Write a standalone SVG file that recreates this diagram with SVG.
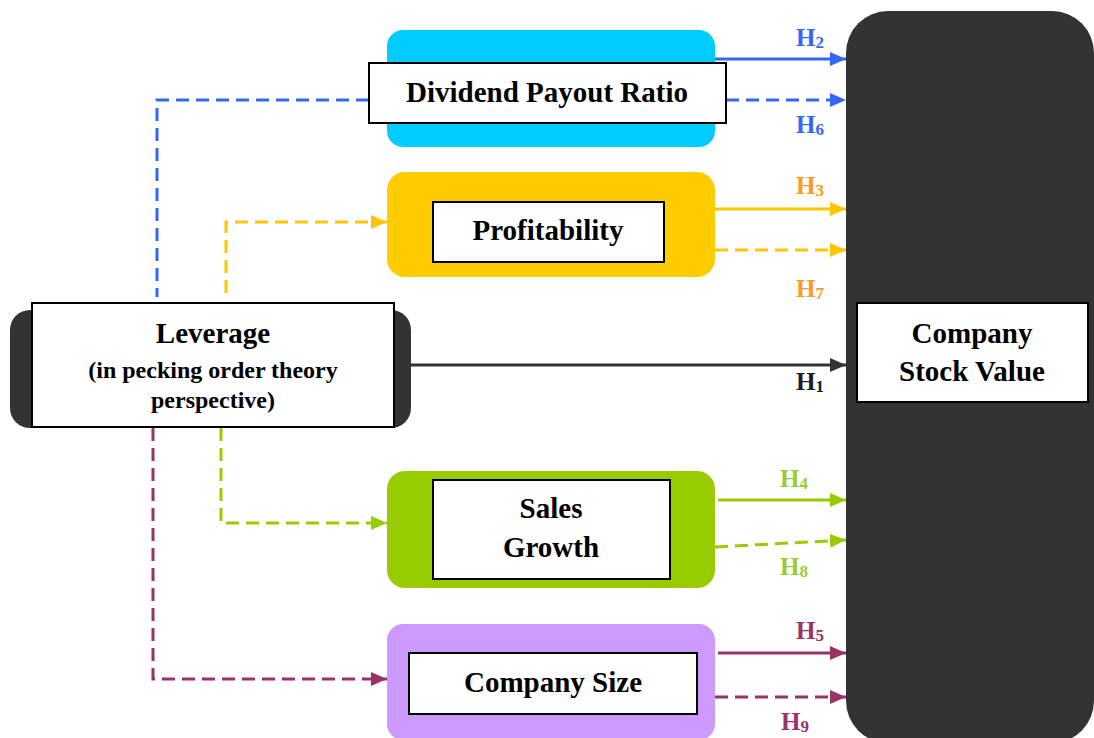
<svg xmlns="http://www.w3.org/2000/svg" width="1094" height="738" viewBox="0 0 1094 738">
  <style>
    .title { font-family: "Liberation Serif", "Times New Roman", serif; font-weight: bold; font-size: 29px; fill: #000; text-anchor: middle; }
    .sub { font-family: "Liberation Serif", "Times New Roman", serif; font-weight: bold; font-size: 24px; fill: #000; text-anchor: middle; }
    .label { font-family: "Liberation Serif", "Times New Roman", serif; font-weight: bold; font-size: 25px; }
    .label tspan.idx { font-size: 17px; }
    .box { fill: #fff; stroke: #000; stroke-width: 2; }
    .wire { fill: none; stroke-width: 3; }
    .dash { stroke-dasharray: 13 7; }
  </style>
  <defs>
    <marker id="ah-blue" markerUnits="userSpaceOnUse" markerWidth="16" markerHeight="14" refX="16" refY="7" orient="auto">
      <path d="M0,0 L16,7 L0,14 z" fill="#3366FF"/>
    </marker>
    <marker id="ah-yellow" markerUnits="userSpaceOnUse" markerWidth="16" markerHeight="14" refX="16" refY="7" orient="auto">
      <path d="M0,0 L16,7 L0,14 z" fill="#FFC600"/>
    </marker>
    <marker id="ah-green" markerUnits="userSpaceOnUse" markerWidth="16" markerHeight="14" refX="16" refY="7" orient="auto">
      <path d="M0,0 L16,7 L0,14 z" fill="#99CC00"/>
    </marker>
    <marker id="ah-purple" markerUnits="userSpaceOnUse" markerWidth="16" markerHeight="14" refX="16" refY="7" orient="auto">
      <path d="M0,0 L16,7 L0,14 z" fill="#993366"/>
    </marker>
    <marker id="ah-dark" markerUnits="userSpaceOnUse" markerWidth="16" markerHeight="14" refX="16" refY="7" orient="auto">
      <path d="M0,0 L16,7 L0,14 z" fill="#333333"/>
    </marker>
  </defs>

  <rect width="1094" height="738" fill="#fff"/>

  <!-- connectors -->
  <g id="connectors">
    <!-- leverage to mediators -->
    <path class="wire dash" stroke="#3366FF" d="M369,100 H157 V297"/>
    <path class="wire dash" stroke="#FFC600" d="M226,293 V222 H387" marker-end="url(#ah-yellow)"/>
    <path class="wire dash" stroke="#99CC00" d="M221,428 V523 H387" marker-end="url(#ah-green)"/>
    <path class="wire dash" stroke="#993366" d="M153,428 V679 H387" marker-end="url(#ah-purple)"/>
    <!-- direct effect -->
    <path class="wire" stroke="#333333" d="M411,365 H846" marker-end="url(#ah-dark)"/>
    <!-- mediators to stock value -->
    <path class="wire" stroke="#3366FF" d="M715,59 H846" marker-end="url(#ah-blue)"/>
    <path class="wire dash" stroke="#3366FF" d="M726,100 H846" marker-end="url(#ah-blue)"/>
    <path class="wire" stroke="#FFC600" d="M715,209 H846" marker-end="url(#ah-yellow)"/>
    <path class="wire dash" stroke="#FFC600" d="M715,250 H846" marker-end="url(#ah-yellow)"/>
    <path class="wire" stroke="#99CC00" d="M718,500 H846" marker-end="url(#ah-green)"/>
    <path class="wire dash" stroke="#99CC00" d="M715,547 L846,540" marker-end="url(#ah-green)"/>
    <path class="wire" stroke="#993366" d="M718,653 H846" marker-end="url(#ah-purple)"/>
    <path class="wire dash" stroke="#993366" d="M715,697 H846" marker-end="url(#ah-purple)"/>

    <!-- hypothesis labels -->
    <text class="label" fill="#3366FF" x="796" y="46">H<tspan class="idx" dy="2">2</tspan></text>
    <text class="label" fill="#3366FF" x="796" y="133">H<tspan class="idx" dy="2">6</tspan></text>
    <text class="label" fill="#FF9922" x="796" y="194">H<tspan class="idx" dy="2">3</tspan></text>
    <text class="label" fill="#FF9922" x="796" y="297">H<tspan class="idx" dy="2">7</tspan></text>
    <text class="label" fill="#1A1A2A" x="796" y="390">H<tspan class="idx" dy="2">1</tspan></text>
    <text class="label" fill="#99CC33" x="780" y="487">H<tspan class="idx" dy="2">4</tspan></text>
    <text class="label" fill="#99CC33" x="780" y="575">H<tspan class="idx" dy="2">8</tspan></text>
    <text class="label" fill="#993366" x="796" y="639">H<tspan class="idx" dy="2">5</tspan></text>
    <text class="label" fill="#993366" x="781" y="730">H<tspan class="idx" dy="2">9</tspan></text>
  </g>

  <!-- dependent variable -->
  <g id="stock-value">
    <rect x="846" y="11" width="248" height="732" rx="42" fill="#333333"/>
    <rect class="box" x="857" y="303" width="231" height="99"/>
    <text class="title" x="972" y="343">Company</text>
    <text class="title" x="972" y="381">Stock Value</text>
  </g>

  <!-- independent variable -->
  <g id="leverage">
    <rect x="10" y="310" width="401" height="118" rx="20" fill="#333333"/>
    <rect class="box" x="32" y="303" width="362" height="124"/>
    <text class="title" x="213" y="343">Leverage</text>
    <text class="sub" x="213" y="378">(in pecking order theory</text>
    <text class="sub" x="213" y="408">perspective)</text>
  </g>

  <!-- mediating variables -->
  <g id="dividend">
    <rect x="387" y="30" width="328" height="117" rx="16" fill="#00CCFF"/>
    <rect class="box" x="369" y="63" width="357" height="60"/>
    <text class="title" x="547" y="102">Dividend Payout Ratio</text>
  </g>

  <g id="profitability">
    <rect x="387" y="172" width="328" height="105" rx="18" fill="#FFCC00"/>
    <rect class="box" x="433" y="202" width="231" height="60"/>
    <text class="title" x="548" y="240">Profitability</text>
  </g>

  <g id="sales-growth">
    <rect x="387" y="471" width="328" height="117" rx="18" fill="#99CC00"/>
    <rect class="box" x="433" y="480" width="237" height="99"/>
    <text class="title" x="551" y="518">Sales</text>
    <text class="title" x="551" y="557">Growth</text>
  </g>

  <g id="company-size">
    <rect x="387" y="624" width="328" height="116" rx="16" fill="#CC99FF"/>
    <rect class="box" x="409" y="653" width="288" height="61"/>
    <text class="title" x="553" y="692">Company Size</text>
  </g>
</svg>
